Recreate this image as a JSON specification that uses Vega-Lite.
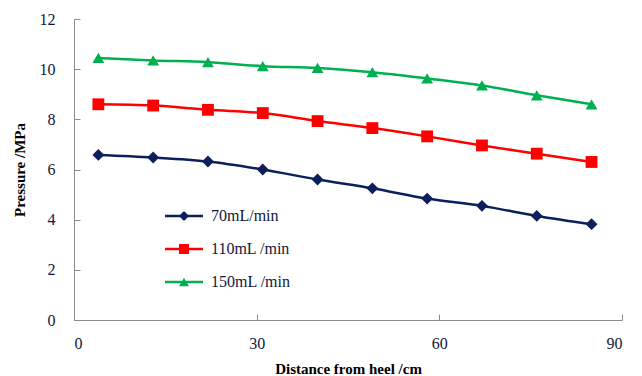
{
  "$schema": "https://vega.github.io/schema/vega-lite/v6.json",
  "autosize": "none",
  "width": 548,
  "height": 301,
  "padding": {"left": 74, "top": 19, "right": 20, "bottom": 56},
  "background": "white",
  "config": {
    "view": {"stroke": null},
    "font": "Liberation Serif",
    "axis": {"grid": false, "domainColor": "#8c8c8c", "tickColor": "#8c8c8c", "labelFont": "Liberation Serif", "labelFontSize": 16, "labelColor": "#10163a", "titleFont": "Liberation Serif", "titleFontSize": 15, "titleFontWeight": "bold", "titleColor": "#000000"},
    "legend": {"labelFont": "Liberation Serif", "labelFontSize": 16, "labelColor": "#10163a"}
  },
  "data": {"values": [
    {"x": 4, "p": 6.58, "s": "70mL/min"},
    {"x": 13, "p": 6.48, "s": "70mL/min"},
    {"x": 22, "p": 6.32, "s": "70mL/min"},
    {"x": 31, "p": 6.0, "s": "70mL/min"},
    {"x": 40, "p": 5.6, "s": "70mL/min"},
    {"x": 49, "p": 5.25, "s": "70mL/min"},
    {"x": 58, "p": 4.84, "s": "70mL/min"},
    {"x": 67, "p": 4.55, "s": "70mL/min"},
    {"x": 76, "p": 4.15, "s": "70mL/min"},
    {"x": 85, "p": 3.82, "s": "70mL/min"},
    {"x": 4, "p": 8.6, "s": "110mL /min"},
    {"x": 13, "p": 8.55, "s": "110mL /min"},
    {"x": 22, "p": 8.38, "s": "110mL /min"},
    {"x": 31, "p": 8.25, "s": "110mL /min"},
    {"x": 40, "p": 7.93, "s": "110mL /min"},
    {"x": 49, "p": 7.65, "s": "110mL /min"},
    {"x": 58, "p": 7.32, "s": "110mL /min"},
    {"x": 67, "p": 6.96, "s": "110mL /min"},
    {"x": 76, "p": 6.63, "s": "110mL /min"},
    {"x": 85, "p": 6.3, "s": "110mL /min"},
    {"x": 4, "p": 10.45, "s": "150mL /min"},
    {"x": 13, "p": 10.35, "s": "150mL /min"},
    {"x": 22, "p": 10.28, "s": "150mL /min"},
    {"x": 31, "p": 10.12, "s": "150mL /min"},
    {"x": 40, "p": 10.05, "s": "150mL /min"},
    {"x": 49, "p": 9.88, "s": "150mL /min"},
    {"x": 58, "p": 9.63, "s": "150mL /min"},
    {"x": 67, "p": 9.35, "s": "150mL /min"},
    {"x": 76, "p": 8.96, "s": "150mL /min"},
    {"x": 85, "p": 8.6, "s": "150mL /min"}
  ]},
  "encoding": {
    "x": {"field": "x", "type": "quantitative", "scale": {"domain": [0, 90], "nice": false}, "axis": {"values": [0, 30, 60, 90], "title": "Distance from  heel /cm", "tickSize": -6, "labelPadding": 21, "titlePadding": 10, "labelFont": "Liberation Serif"}},
    "y": {"field": "p", "type": "quantitative", "scale": {"domain": [0, 12], "nice": false}, "axis": {"values": [0, 2, 4, 6, 8, 10, 12], "title": "Pressure /MPa", "tickSize": -6, "labelPadding": 25, "titlePadding": 12, "labelFont": "Liberation Serif"}}
  },
  "layer": [
    {"mark": {"type": "line", "interpolate": "monotone", "strokeWidth": 2.5},
     "encoding": {
       "stroke": {"field": "s", "type": "nominal", "sort": ["70mL/min", "110mL /min", "150mL /min"], "scale": {"range": ["#0a1f5c", "#ff0000", "#00b050"]},
         "legend": {"orient": "none", "legendX": 102, "legendY": 189, "title": null, "padding": 0, "rowPadding": 17, "symbolType": "M-3.8,0H3.8", "symbolSize": 100, "symbolStrokeWidth": 2.5, "labelOffset": 19, "labelOpacity": 0, "labelFontSize": 16}}
     }},
    {"mark": {"type": "point", "filled": true, "size": 140, "opacity": 1},
     "encoding": {
       "color": {"field": "s", "type": "nominal", "scale": {"domain": ["70mL/min", "110mL /min", "150mL /min"], "range": ["#0a1f5c", "#ff0000", "#00b050"]},
         "legend": {"orient": "none", "legendX": 102, "legendY": 189, "title": null, "padding": 0, "rowPadding": 17, "symbolSize": 100, "symbolOpacity": 1, "labelOffset": 19, "labelFont": "Liberation Serif", "labelFontSize": 16, "labelColor": "#10163a"}},
       "shape": {"field": "s", "type": "nominal", "scale": {"domain": ["70mL/min", "110mL /min", "150mL /min"], "range": ["diamond", "square", "triangle-up"]},
         "legend": {"orient": "none", "legendX": 102, "legendY": 189, "title": null, "padding": 0, "rowPadding": 17, "symbolSize": 100, "symbolOpacity": 1, "labelOffset": 19, "labelFont": "Liberation Serif", "labelFontSize": 16, "labelColor": "#10163a"}}
     }}
  ]
}
